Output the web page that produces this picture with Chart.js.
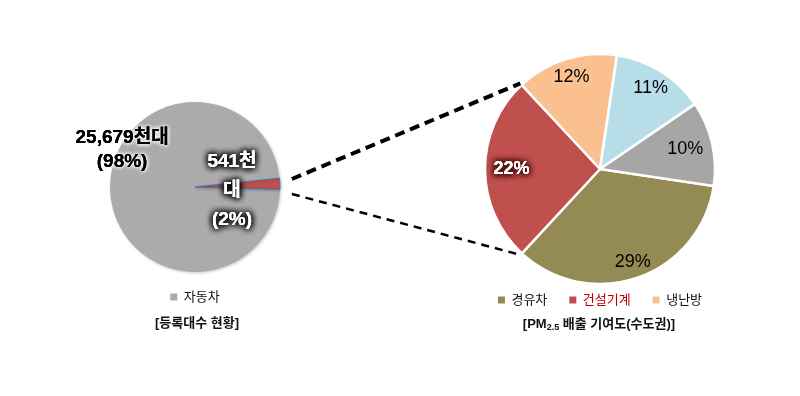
<!DOCTYPE html>
<html>
<head>
<meta charset="utf-8">
<script src="https://cdn.jsdelivr.net/npm/chart.js@4.4.1/dist/chart.umd.min.js"></script>
<style>
  html, body { margin: 0; padding: 0; background: #ffffff; }
  #wrap { position: relative; width: 800px; height: 396px; overflow: hidden; }
  canvas { position: absolute; left: 0; top: 0; }
  .ttl { position: absolute; font-family: "Liberation Sans", "Noto Sans CJK KR", sans-serif;
         font-weight: bold; font-size: 13px; color: #111; white-space: nowrap; transform: translate(-50%, -50%); }
  .ttl sub { font-size: 9px; vertical-align: -2px; }
</style>
</head>
<body>
<div id="wrap">
  <canvas id="left" width="800" height="396"></canvas>
  <canvas id="right" width="800" height="396"></canvas>
  <div class="ttl" style="left:197px; top:321px;">[등록대수 현황]</div>
  <div class="ttl" style="left:599px; top:322px;">[PM<sub>2.5</sub> 배출 기여도(수도권)]</div>
</div>
<script>
// ---------- data ----------
const leftCategories = ['자동차', '건설기계'];
const leftValues = [25679, 541];          // 천대
const leftPercents = [98, 2];
const leftLabelLines = [['25,679천대', '(98%)'], ['541천', '대', '(2%)']];

const rightCategories = ['경유차', '건설기계', '냉난방', '기타1', '기타2'];
const rightValues = [29, 22, 12, 11, 10];  // % contribution
const rightLegendCount = 3;

// ---------- styles ----------
const FONT = '"Liberation Sans", "Noto Sans CJK KR", sans-serif';
const leftColors = ['#ABABAB', '#C0504D'];
const rightColors = ['#948A54', '#C0504D', '#FAC090', '#B7DEE8', '#A6A6A6'];
const legendTextColors = { '건설기계': '#C00000' };

function glowText(ctx, text, x, y, fill, glow, blur, passes) {
  ctx.save();
  ctx.shadowColor = glow;
  ctx.shadowBlur = blur;
  ctx.fillStyle = fill;
  for (let i = 0; i < passes; i++) ctx.fillText(text, x, y);
  ctx.restore();
  ctx.fillStyle = fill;
  ctx.fillText(text, x, y);
}

const softShadow = {
  id: 'softShadow',
  beforeDatasetsDraw(chart) {
    const ctx = chart.ctx;
    ctx.save();
    ctx.shadowColor = 'rgba(0,0,0,0.22)';
    ctx.shadowBlur = 3;
    ctx.shadowOffsetX = 1;
    ctx.shadowOffsetY = 1;
  },
  afterDatasetsDraw(chart) {
    chart.ctx.restore();
  }
};

// labels for left pie: polar anchor relative to pie centre
const leftLabelPlugin = {
  id: 'leftLabels',
  afterDatasetsDraw(chart) {
    const ctx = chart.ctx;
    const arc = chart.getDatasetMeta(0).data[0];
    const cx = arc.x, cy = arc.y, r = arc.outerRadius;
    const specs = [
      { idx: 0, ang: 206.9, frac: 0.962, lh: 24, fill: '#000', glow: '#ffffff', blur: 4, passes: 3 },
      { idx: 1, ang: 6.2, frac: 0.438, lh: 29, fill: '#ffffff', glow: 'rgba(0,0,0,0.95)', blur: 6, passes: 4 }
    ];
    ctx.save();
    ctx.font = 'bold 19px ' + FONT;
    ctx.textAlign = 'center';
    ctx.textBaseline = 'middle';
    specs.forEach(s => {
      const a = s.ang * Math.PI / 180;
      const x = cx + Math.cos(a) * r * s.frac;
      const y = cy + Math.sin(a) * r * s.frac;
      const lines = leftLabelLines[s.idx];
      const y0 = y - (lines.length - 1) * s.lh / 2;
      lines.forEach((t, i) => glowText(ctx, t, x, y0 + i * s.lh, s.fill, s.glow, s.blur, s.passes));
    });
    ctx.restore();
  }
};

const leftChart = new Chart(document.getElementById('left'), {
  type: 'pie',
  data: {
    labels: leftCategories,
    datasets: [{
      data: leftValues,
      backgroundColor: leftColors,
      borderColor: ['#ABABAB', '#4A6CA8'],
      borderWidth: [0, 1]
    }]
  },
  options: {
    responsive: false,
    animation: false,
    events: [],
    rotation: 91.5,
    radius: 85,
    layout: { padding: { left: 110, right: 520, top: 105.5, bottom: 82.5 } },
    plugins: {
      tooltip: { enabled: false },
      title: { display: false },
      legend: {
        display: true,
        position: 'bottom',
        labels: {
          boxWidth: 7, boxHeight: 7, padding: 22,
          font: { family: FONT, size: 13 },
          color: '#111',
          filter: (item) => item.index === 0
        }
      }
    }
  },
  plugins: [softShadow, leftLabelPlugin]
});

// labels + connector lines for right pie
const rightLabelPlugin = {
  id: 'rightLabels',
  afterDatasetsDraw(chart) {
    const ctx = chart.ctx;
    const meta = chart.getDatasetMeta(0);
    const fracs = [0.86, 0.77, 0.84, 0.83, 0.76];
    ctx.save();
    ctx.textAlign = 'center';
    ctx.textBaseline = 'middle';
    meta.data.forEach((arc, i) => {
      const mid = (arc.startAngle + arc.endAngle) / 2;
      const x = arc.x + Math.cos(mid) * arc.outerRadius * fracs[i];
      const y = arc.y + Math.sin(mid) * arc.outerRadius * fracs[i];
      const t = rightValues[i] + '%';
      if (i === 1) {
        ctx.font = 'bold 18px ' + FONT;
        glowText(ctx, t, x, y, '#ffffff', 'rgba(70,10,10,1)', 6, 4);
      } else {
        ctx.font = '18px ' + FONT;
        ctx.fillStyle = '#000';
        ctx.fillText(t, x, y);
      }
    });
    ctx.restore();

    // dashed connectors from left pie's small slice to right pie's matching slice
    const la = leftChart.getDatasetMeta(0).data[1];
    const ra = meta.data[1];
    const sx = la.x + la.outerRadius * 1.14;
    const upStart = { x: sx, y: la.y - 8 };
    const lowStart = { x: sx, y: la.y + 7 };
    const rr = ra.outerRadius + 2;
    const upEnd = { x: ra.x + Math.cos(ra.endAngle) * rr, y: ra.y + Math.sin(ra.endAngle) * rr };
    const lowEnd = { x: ra.x + Math.cos(ra.startAngle) * rr, y: ra.y + Math.sin(ra.startAngle) * rr };
    ctx.save();
    ctx.strokeStyle = '#000';
    ctx.lineCap = 'butt';
    ctx.setLineDash([10, 6]);
    ctx.lineWidth = 4;
    ctx.beginPath(); ctx.moveTo(upStart.x, upStart.y); ctx.lineTo(upEnd.x, upEnd.y); ctx.stroke();
    ctx.setLineDash([8, 6]);
    ctx.lineWidth = 2.5;
    ctx.beginPath(); ctx.moveTo(lowStart.x, lowStart.y); ctx.lineTo(lowEnd.x, lowEnd.y); ctx.stroke();
    ctx.restore();
  }
};

new Chart(document.getElementById('right'), {
  type: 'pie',
  data: {
    labels: rightCategories,
    datasets: [{
      data: rightValues,
      backgroundColor: rightColors,
      borderColor: '#ffffff',
      borderWidth: 2.5
    }]
  },
  options: {
    responsive: false,
    animation: false,
    events: [],
    rotation: 98.5,
    radius: 115,
    layout: { padding: { left: 460, right: 60, top: 66.5, bottom: 79.5 } },
    plugins: {
      tooltip: { enabled: false },
      title: { display: false },
      legend: {
        display: true,
        position: 'bottom',
        labels: {
          boxWidth: 7, boxHeight: 7, padding: 22,
          font: { family: FONT, size: 13 },
          color: '#111',
          generateLabels: (chart) => {
            const items = Chart.overrides.pie.plugins.legend.labels.generateLabels(chart);
            return items.slice(0, rightLegendCount).map(it => Object.assign(it, {
              fontColor: legendTextColors[it.text] || '#111',
              strokeStyle: it.fillStyle,
              lineWidth: 0
            }));
          }
        }
      }
    }
  },
  plugins: [rightLabelPlugin]
});
</script>
</body>
</html>
